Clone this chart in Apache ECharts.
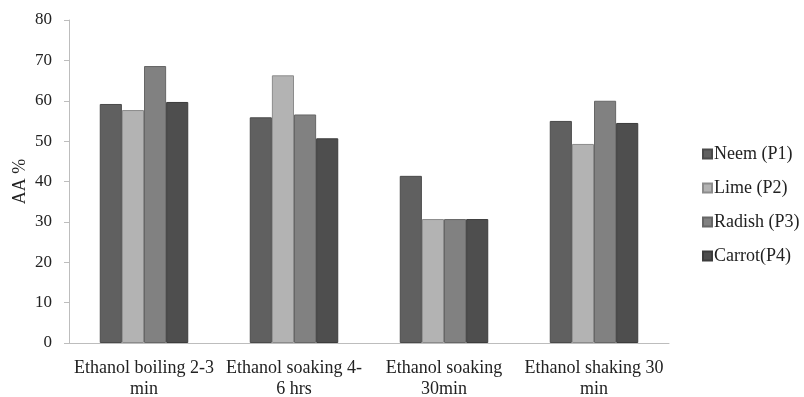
<!DOCTYPE html>
<html><head><meta charset="utf-8">
<script src="https://cdn.jsdelivr.net/npm/echarts@6/dist/echarts.min.js"></script>
<style>html,body{margin:0;padding:0;background:#fff}#c{width:804px;height:397px}</style>
</head><body><div id="c"></div>
<script>
const categories = ["Ethanol boiling 2-3\nmin", "Ethanol soaking 4-\n6 hrs", "Ethanol soaking\n30min", "Ethanol shaking 30\nmin"];
const seriesNames = ["Neem (P1)", "Lime (P2)", "Radish (P3)", "Carrot(P4)"];
const neem = [59.2, 55.9, 41.4, 55.0];
const lime = [57.7, 66.3, 30.7, 49.3];
const radish = [68.6, 56.6, 30.7, 60.0];
const carrot = [59.7, 50.7, 30.7, 54.5];
const yTicks = [0, 10, 20, 30, 40, 50, 60, 70, 80];

const colors = ["#606060", "#b3b3b3", "#818181", "#4e4e4e"];
const borders = ["#4a4a4a", "#8c8c8c", "#666666", "#3c3c3c"];
const values = [neem, lime, radish, carrot];
const font = "'Liberation Serif', 'Times New Roman', serif";

const chart = echarts.init(document.getElementById('c'));
chart.setOption({
  animation: false,
  textStyle: { fontFamily: font },
  grid: { left: 69, right: 135, top: 20, bottom: 54, containLabel: false, outerBoundsMode: 'none' },
  legend: {
    orient: 'vertical', left: 697, top: 140, itemGap: 16,
    itemWidth: 9, itemHeight: 9, icon: 'rect',
    textStyle: { fontFamily: font, fontSize: 18, color: '#222', padding: [0,0,0,-3] },
    data: seriesNames
  },
  xAxis: {
    type: 'category', data: categories,
    axisLine: { lineStyle: { color: '#bdbdbd' } },
    axisTick: { show: false },
    axisLabel: { interval: 0, fontFamily: font, fontSize: 18, color: '#222', lineHeight: 21, margin: 15 }
  },
  yAxis: {
    type: 'value', min: yTicks[0], max: yTicks[yTicks.length-1], interval: 10,
    name: 'AA %', nameLocation: 'middle', nameGap: 40, nameRotate: 90, nameMoveOverlap: false,
    nameTextStyle: { fontFamily: font, fontSize: 18, color: '#222' },
    axisLine: { show: true, lineStyle: { color: '#bdbdbd' } },
    axisTick: { show: true, length: 5, lineStyle: { color: '#bdbdbd' } },
    splitLine: { show: false },
    axisLabel: { fontFamily: font, fontSize: 17, color: '#222', margin: 17 }
  },
  series: seriesNames.map((n, i) => ({
    name: n, type: 'bar', data: values[i],
    barGap: '0%', barCategoryGap: '41%',
    itemStyle: { color: colors[i], borderColor: borders[i], borderWidth: 1 }
  }))
});
</script></body></html>
